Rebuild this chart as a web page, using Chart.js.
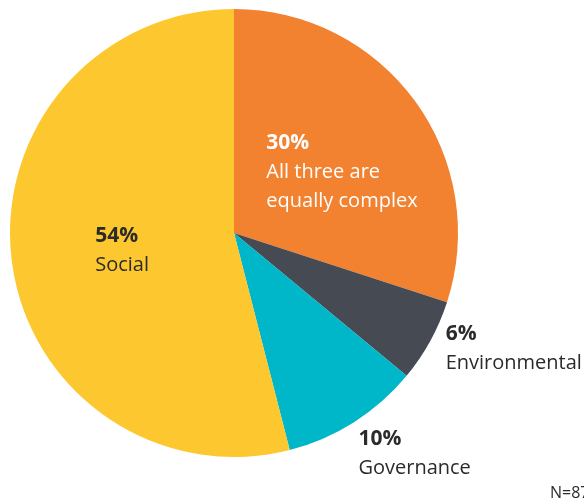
<!DOCTYPE html>
<html>
<head>
<meta charset="utf-8">
<script src="https://cdn.jsdelivr.net/npm/chart.js@4"></script>
<style>
  html, body { margin: 0; padding: 0; background: #ffffff; overflow: hidden; }
  #wrap { position: relative; width: 584px; height: 504px; }
</style>
</head>
<body>
<div id="wrap"><canvas id="chart"></canvas></div>
<script>
// Which ESG dimension is the most complex to address
const categories = ['All three are equally complex', 'Environmental', 'Governance', 'Social'];
const shares = [30, 6, 10, 54];
const sliceColors = ['#F28130', '#464A53', '#00B6C9', '#FDC72F'];
const sampleNote = 'N=87';

// Per-slice label placement, relative to a point at 62% of the radius on each slice's mid-angle
const labelStyle = [
  { dx: -80, dy: -2, color: '#ffffff', lines: ['All three are', 'equally complex'] },
  { dx: 90, dy: 40, color: '#2b2b2b', lines: ['Environmental'] },
  { dx: 50, dy: 95, color: '#2b2b2b', lines: ['Governance'] },
  { dx: -1, dy: -8, color: '#2b2b2b', lines: ['Social'] }
];

const sliceLabels = {
  id: 'sliceLabels',
  afterDraw(chart) {
    const { ctx } = chart;
    const meta = chart.getDatasetMeta(0);
    const area = chart.chartArea;
    const cx = (area.left + area.right) / 2;
    const cy = (area.top + area.bottom) / 2;
    ctx.save();
    ctx.textAlign = 'left';
    ctx.textBaseline = 'alphabetic';
    meta.data.forEach((arc, i) => {
      const p = arc.getProps(['startAngle', 'endAngle', 'outerRadius'], true);
      const mid = (p.startAngle + p.endAngle) / 2;
      const r = p.outerRadius * 0.62;
      const s = labelStyle[i];
      const x = cx + Math.cos(mid) * r + s.dx;
      const y = cy + Math.sin(mid) * r + s.dy;
      ctx.fillStyle = s.color;
      ctx.font = 'bold 21px "Open Sans"';
      ctx.fillText(shares[i] + '%', x, y);
      ctx.font = '20px "Open Sans"';
      s.lines.forEach((line, k) => ctx.fillText(line, x, y + 29 * (k + 1)));
    });
    ctx.fillStyle = '#2b2b2b';
    ctx.font = '16px "Open Sans"';
    ctx.fillText(sampleNote, 550, 498);
    ctx.restore();
  }
};

new Chart(document.getElementById('chart'), {
  type: 'pie',
  data: {
    labels: categories,
    datasets: [{
      data: shares,
      backgroundColor: sliceColors,
      borderWidth: 0
    }]
  },
  options: {
    responsive: true,
    maintainAspectRatio: false,
    animation: false,
    layout: { padding: { left: 10, top: 9, right: 126, bottom: 47 } },
    plugins: {
      legend: { display: false },
      tooltip: { enabled: false }
    }
  },
  plugins: [sliceLabels]
});
</script>
</body>
</html>
